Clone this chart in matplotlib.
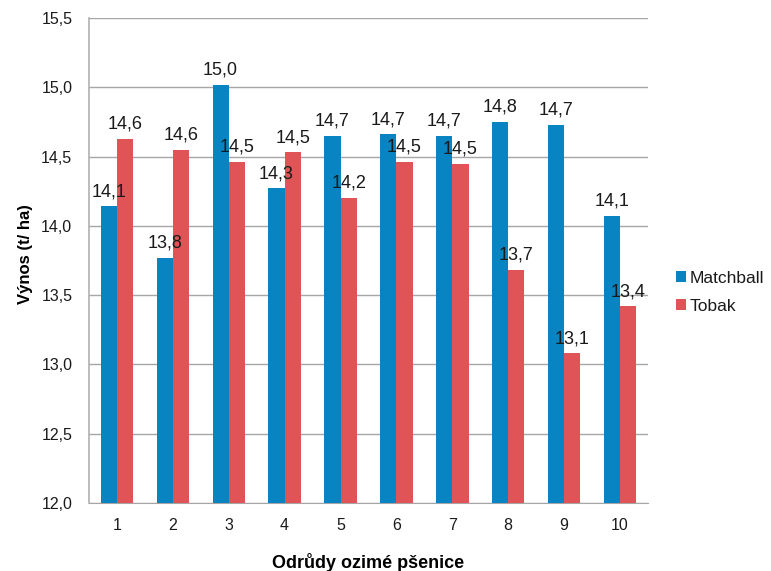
import matplotlib.pyplot as plt
import numpy as np

varieties = ["1", "2", "3", "4", "5", "6", "7", "8", "9", "10"]
matchball = [14.14, 13.77, 15.02, 14.27, 14.65, 14.66, 14.65, 14.75, 14.73, 14.07]
tobak = [14.63, 14.55, 14.46, 14.53, 14.20, 14.46, 14.45, 13.68, 13.08, 13.42]
matchball_labels = ["14,1", "13,8", "15,0", "14,3", "14,7", "14,7", "14,7", "14,8", "14,7", "14,1"]
tobak_labels = ["14,6", "14,6", "14,5", "14,5", "14,2", "14,5", "14,5", "13,7", "13,1", "13,4"]
yticks = [12.0, 12.5, 13.0, 13.5, 14.0, 14.5, 15.0, 15.5]

plt.rcParams.update({
    "font.family": ["Liberation Sans", "DejaVu Sans"],
    "text.color": "#1a1a1a",
})

fig = plt.figure(figsize=(7.71, 5.71), dpi=100, facecolor="white")
ax = fig.add_axes([0.1154, 0.119, 0.725, 0.8495])

x = np.arange(len(varieties))
width = 0.29
blue = "#0884c3"
red = "#e05457"

b1 = ax.bar(x - width / 2, matchball, width=width, color=blue, label="Matchball", zorder=3)
b2 = ax.bar(x + width / 2, tobak, width=width, color=red, label="Tobak", zorder=3)

for bars, labs in ((b1, matchball_labels), (b2, tobak_labels)):
    for b, lab in zip(bars, labs):
        ax.annotate(lab, (b.get_x() + b.get_width() / 2, b.get_height()),
                    xytext=(0, 4.5), textcoords="offset points",
                    ha="center", va="bottom", fontsize=13, color="#1a1a1a")

ax.set_xlim(-0.5, len(varieties) - 0.5)
ax.set_ylim(12.0, 15.5)
ax.set_yticks(yticks)
ax.set_yticklabels([f"{t:.1f}".replace(".", ",") for t in yticks], fontsize=11.5)
ax.set_xticks(x)
ax.set_xticklabels(varieties, fontsize=11.5)
ax.tick_params(axis="both", length=0, pad=12, colors="#1a1a1a")
ax.tick_params(axis="x", pad=11)

ax.grid(axis="y", color="#a6a6a6", linewidth=1.0, zorder=0)
for s in ("top", "right"):
    ax.spines[s].set_visible(False)
ax.spines["left"].set_color("#b0b0b0")
ax.spines["bottom"].set_color("#a6a6a6")
ax.spines["left"].set_linewidth(1.2)

ax.set_ylabel("Výnos (t/ ha)", fontsize=12, fontweight="bold")
ax.yaxis.set_label_coords(-0.1, 0.514)
ax.set_xlabel("Odrůdy ozimé pšenice", fontsize=13, fontweight="bold", labelpad=14)

ax.legend(loc="center left", bbox_to_anchor=(1.023, 0.435), frameon=False,
          fontsize=12.5, handlelength=0.55, handleheight=0.55, handletextpad=0.2,
          labelspacing=0.75)

fig.savefig("out.png", dpi=100, facecolor="white")
plt.close(fig)
